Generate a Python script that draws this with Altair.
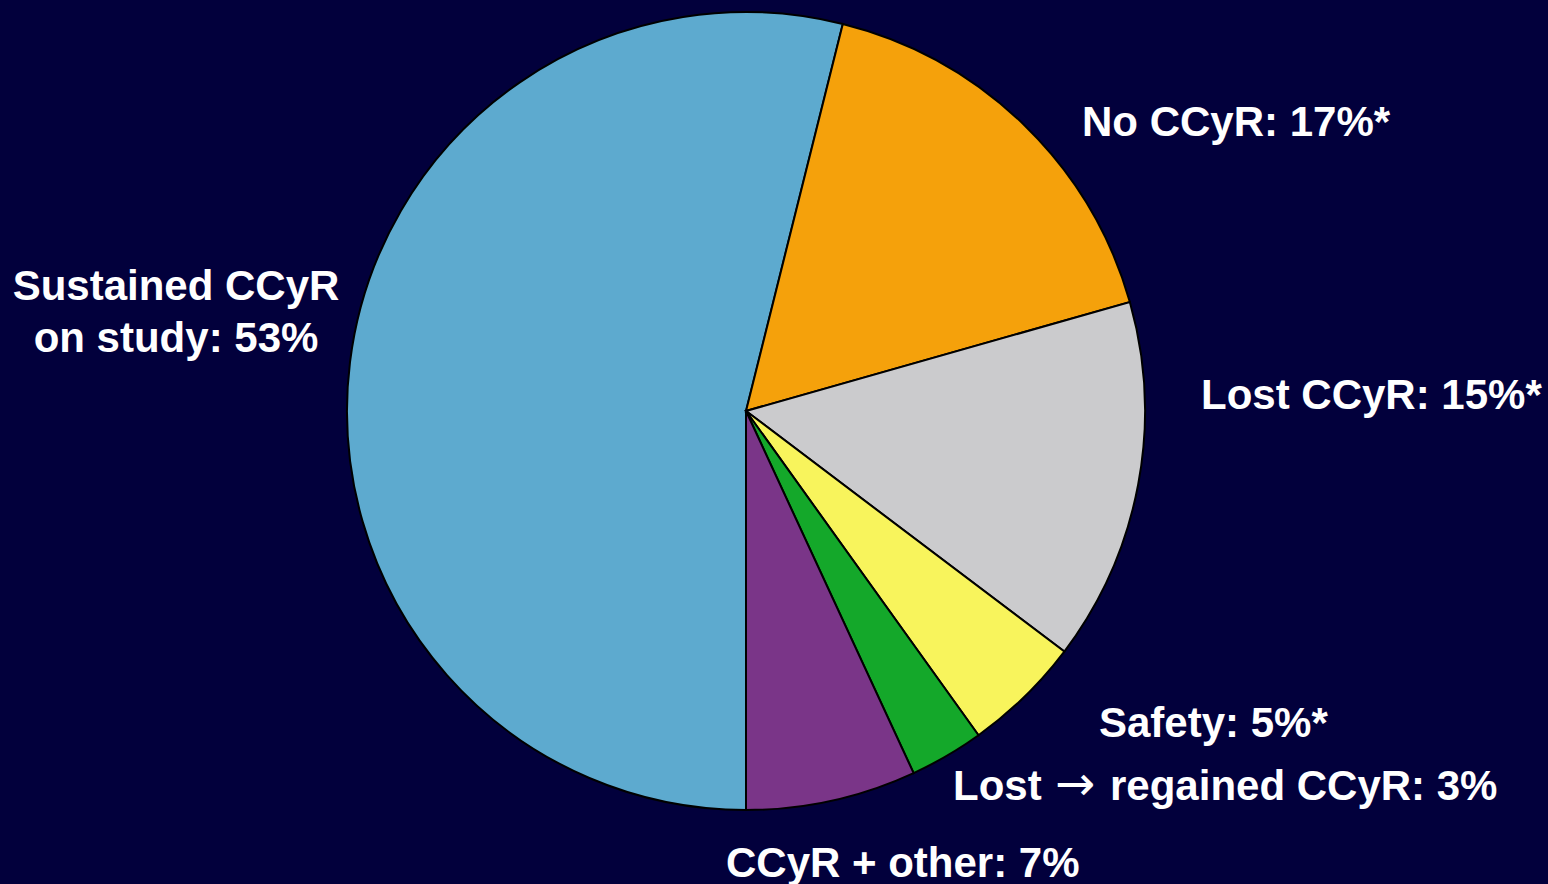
import math
import altair as alt
import pandas as pd

categories = ["Sustained CCyR on study", "No CCyR", "Lost CCyR", "Safety",
              "Lost → regained CCyR", "CCyR + other"]
# slice shares as measured from the slice angles in the picture
values = [53.9, 16.7, 14.7, 4.8, 3.0, 6.9]
slice_colors = ["#5DAACF", "#F5A10B", "#CBCBCD", "#F8F45C", "#14A82A", "#7A3588"]

label_texts = ["Sustained CCyR\non study: 53%", "No CCyR: 17%*", "Lost CCyR: 15%*",
               "Safety: 5%*", "Lost", "regained CCyR: 3%", "CCyR + other: 7%"]
# label anchor positions (pixels) - annotation placement only
label_x = [176, 1082, 1201, 1099, 953, 1110, 726]
label_y = [300, 136, 409, 737, 800, 800, 877]
label_align = ["center", "left", "left", "left", "left", "left", "left"]

arrow_text = ["\u2192"]
arrow_x = [1075]
arrow_y = [800]

BG = "#02003C"
CX, CY, R = 746, 411, 399

df = pd.DataFrame({"category": categories, "value": values, "order": list(range(len(values)))})
labels = pd.DataFrame({"text": label_texts, "lx": label_x, "ly": label_y, "align": label_align})
arrows = pd.DataFrame({"text": arrow_text, "lx": arrow_x, "ly": arrow_y})

pie = alt.Chart(df).mark_arc(outerRadius=R, stroke="#000000", strokeWidth=2).encode(
    theta=alt.Theta("value:Q", stack=True, scale=alt.Scale(range=[math.pi, 3 * math.pi])),
    color=alt.Color("category:N", scale=alt.Scale(domain=categories, range=slice_colors), legend=None),
    order=alt.Order("order:Q"),
    x=alt.value(CX),
    y=alt.value(CY),
)

xs = alt.Scale(domain=[0, 1548], range=[0, 1548])
ys = alt.Scale(domain=[0, 884], range=[0, 884])

def text_layer(align):
    return alt.Chart(labels).transform_filter(alt.datum.align == align).mark_text(
        align=align, baseline="alphabetic", font="Liberation Sans", fontWeight="bold",
        fontSize=42, color="white", lineBreak="\n", lineHeight=52,
    ).encode(
        x=alt.X("lx:Q", scale=xs, axis=None),
        y=alt.Y("ly:Q", scale=ys, axis=None),
        text="text:N",
    )

arrow_layer = alt.Chart(arrows).mark_text(
    align="center", baseline="alphabetic", font="DejaVu Sans", fontWeight="normal",
    fontSize=48, color="white",
).encode(
    x=alt.X("lx:Q", scale=xs, axis=None),
    y=alt.Y("ly:Q", scale=ys, axis=None),
    text="text:N",
)

chart = alt.layer(pie, text_layer("left"), text_layer("center"), arrow_layer).properties(
    width=1548, height=884, background=BG, padding=0,
    autosize=alt.AutoSizeParams(type="fit", contains="padding"),
).configure_view(stroke=None, fill=BG)

chart.save("out.html", embed_options={"renderer": "svg", "actions": False})
